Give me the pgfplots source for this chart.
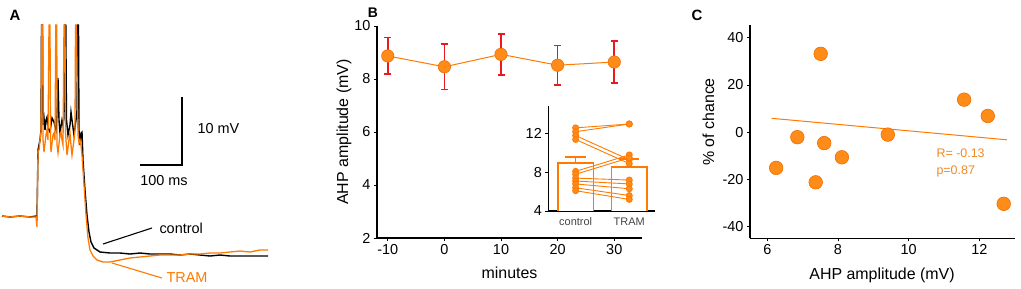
\documentclass[border=0pt]{standalone}
\usepackage{pgfplots}
\pgfplotsset{compat=1.18}
\usepackage{fontspec}
\setmainfont{Liberation Sans}
\definecolor{lor}{RGB}{255,122,0}
\definecolor{mfill}{RGB}{255,140,25}
\definecolor{medge}{RGB}{240,110,0}
\definecolor{ebred}{RGB}{235,25,30}
\definecolor{rtxt}{RGB}{238,138,40}
\definecolor{gtxt}{RGB}{68,68,68}
\pgfplotsset{
  panel/.style={scale only axis, anchor=south west,
    axis x line*=bottom, axis y line*=left,
    axis line style={black, line width=1.1pt, -},
    tick align=outside, major tick length=3bp,
    tick style={black, line width=0.9pt},
    tick label style={font=\fontsize{14.5}{15}\selectfont},
    /pgf/number format/assume math mode=true},
  pair/.style={draw=lor, line width=0.9pt, mark=*, mark size=3bp, mark options={fill=mfill, draw=lor}},
  eb/.style={draw=ebred, line width=1.6pt, mark=none},
  ebo/.style={draw=lor, line width=1.6pt, mark=none},
}
\begin{document}
\begin{tikzpicture}
\useasboundingbox (0,0) rectangle (1021bp,289bp);
% ---------------- Panel A ----------------
\begin{axis}[at={(0,0)}, anchor=south west, scale only axis, width=270bp, height=289bp,
  xmin=0, xmax=270, ymin=0, ymax=289, y dir=reverse, hide axis, clip=false]
\addplot[black, line width=1.4pt] coordinates {
(2,216)(10,217)(20,216)(30,217)(36,216)(37,218)(38,150)(40,140)(41,130)(41.5,25)(42.5,25)(43,125)(44,118)(45,130)(46,120)(47,117)(48,128)(50,132)(52,118)(54,122)(56,130)(57,115)(58,78)(59,120)(60,133)(62,120)(63,125)(64,118)(64.8,25)(65.8,25)(66.5,120)(68,135)(70,125)(71,112)(72,120)(74,135)(76,120)(77,110)(77.6,25)(78.5,25)(79,130)(80,145)(81,133)(82,132)(83,160)(85,190)(87,215)(89,232)(91,242)(94,248)(100,252)(110,253)(120,253)(130,254)(140,253)(150,254)(160,254)(170,254)(180,255)(190,254)(200,255)(210,256)(220,255)(230,256)(240,256)(250,256)(260,256)(268,256)};
\addplot[lor, line width=1.3pt] coordinates {
(2,216)(10,217)(20,216)(30,217)(36,217)(37,227)(38,152)(39,150)(40,140)(41,132)(41.8,25)(42.8,25)(43,140)(44,152)(46,135)(47,130)(48,140)(49,25)(50,25)(50.5,140)(51,152)(53,135)(54,133)(55,140)(55.8,25)(56.8,25)(57,145)(58,153)(60,135)(61,132)(62,140)(63,145)(64,25)(65,25)(65.5,132)(66,140)(67,155)(69,140)(70,133)(71,145)(72,155)(74,140)(75,130)(75.5,25)(76.5,25)(77,70)(78,135)(79,143)(80,140)(81,145)(82,155)(84,185)(86,215)(88,238)(90,250)(93,256)(97,260)(103,262)(110,262)(120,260)(130,258)(140,257)(150,256)(160,255)(170,255)(180,255)(190,254)(200,254)(210,253)(220,253)(230,252)(240,251)(250,252)(260,250)(268,250)};
% scale bars
\addplot[black, line width=1.1pt] coordinates {(182,97)(182,165)(140,165)};
% pointers
\addplot[black, line width=1.1pt] coordinates {(103,244)(152,228)};
\addplot[lor, line width=1.1pt] coordinates {(112,263)(162,278)};
\node[anchor=west, font=\fontsize{14.5}{15}\selectfont] at (axis cs:194,129) {10 mV};
\node[font=\fontsize{14.5}{15}\selectfont] at (axis cs:164,181) {100 ms};
\node[anchor=west, font=\fontsize{14.5}{15}\selectfont] at (axis cs:156,228) {control};
\node[anchor=west, text=lor, font=\fontsize{14.5}{15}\selectfont] at (axis cs:163,278) {TRAM};
\end{axis}
% ---------------- Panel B ----------------
\begin{axis}[panel, at={(377bp,51bp)}, width=265bp, height=212bp,
  xmin=-11.9, xmax=34.9, ymin=2, ymax=10,
  xtick={-10,0,10,20,30}, ytick={2,4,6,8,10}]
% error bars (mean +- error), stems and caps
\addplot[eb] coordinates {(-10,8.18)(-10,9.56)};
\addplot[eb] coordinates {(-10.62,8.18)(-9.38,8.18)};
\addplot[eb] coordinates {(-10.62,9.56)(-9.38,9.56)};
\addplot[eb] coordinates {(0,7.60)(0,9.32)};
\addplot[eb] coordinates {(-0.62,7.60)(0.62,7.60)};
\addplot[eb] coordinates {(-0.62,9.32)(0.62,9.32)};
\addplot[eb] coordinates {(10,8.16)(10,9.70)};
\addplot[eb] coordinates {(9.38,8.16)(10.62,8.16)};
\addplot[eb] coordinates {(9.38,9.70)(10.62,9.70)};
\addplot[eb] coordinates {(20,7.78)(20,9.26)};
\addplot[eb] coordinates {(19.38,7.78)(20.62,7.78)};
\addplot[eb] coordinates {(19.38,9.26)(20.62,9.26)};
\addplot[eb] coordinates {(30,7.84)(30,9.44)};
\addplot[eb] coordinates {(29.38,7.84)(30.62,7.84)};
\addplot[eb] coordinates {(29.38,9.44)(30.62,9.44)};
\addplot[draw=lor, line width=1pt, mark=*, mark size=6.2bp, mark options={fill=mfill, draw=medge, line width=0.6pt}]
  coordinates {(-10,8.87)(0,8.46)(10,8.93)(20,8.52)(30,8.64)};
\end{axis}
% ---------------- Inset ----------------
\begin{axis}[panel, at={(548.3bp,78bp)}, width=106.7bp, height=105bp,
  xmin=-0.51, xmax=1.48, ymin=4, ymax=14.86, clip=true,
  xtick={0,1}, xticklabels={control,TRAM}, ytick={4,8,12},
  xtick style={draw=none},
  xticklabel style={font=\fontsize{11}{12}\selectfont, text=gtxt}]
\addplot[draw=lor, line width=1.4pt, fill=white, mark=none] coordinates {(-0.33,3.9)(-0.33,8.95)(0.33,8.95)(0.33,3.9)};
\addplot[draw=lor, line width=1.4pt, fill=white, mark=none] coordinates {(0.67,3.9)(0.67,8.55)(1.33,8.55)(1.33,3.9)};
\addplot[ebo] coordinates {(0,8.95)(0,9.6)};
\addplot[ebo] coordinates {(-0.19,9.6)(0.19,9.6)};
\addplot[ebo] coordinates {(1,8.55)(1,9.4)};
\addplot[ebo] coordinates {(0.81,9.4)(1.19,9.4)};
\addplot[pair] coordinates {(0,12.6)(1,13.0)};
\addplot[pair] coordinates {(0,12.2)(1,13.0)};
\addplot[pair] coordinates {(0,11.8)(1,9.3)};
\addplot[pair] coordinates {(0,11.4)(1,8.9)};
\addplot[pair] coordinates {(0,8.1)(1,9.8)};
\addplot[pair] coordinates {(0,7.8)(1,9.5)};
\addplot[pair] coordinates {(0,7.4)(1,7.2)};
\addplot[pair] coordinates {(0,7.1)(1,6.8)};
\addplot[pair] coordinates {(0,6.8)(1,6.3)};
\addplot[pair] coordinates {(0,6.4)(1,5.6)};
\addplot[pair] coordinates {(0,6.1)(1,5.2)};
\end{axis}
% ---------------- Panel C ----------------
\begin{axis}[panel, at={(750bp,50.7bp)}, width=265bp, height=213.3bp,
  xmin=5.51, xmax=13.01, ymin=-44.9, ymax=45.4,
  xtick={6,8,10,12}, ytick={-40,-20,0,20,40}]
\addplot[draw=lor, line width=1pt, mark=none] coordinates {(6.12,5.9)(12.78,-3.2)};
\addplot[only marks, mark=*, mark size=6.8bp, mark options={fill=mfill, draw=medge, line width=0.6pt}]
  coordinates {(6.25,-15.1)(6.85,-2.1)(7.51,33.2)(7.37,-21.2)(7.61,-4.6)(8.11,-10.6)(9.41,-1.0)(11.57,13.8)(12.24,6.9)(12.69,-30.3)};
\node[anchor=west, text=rtxt, font=\fontsize{12.5}{13}\selectfont] at (axis cs:10.69,-9.0) {R= -0.13};
\node[anchor=west, text=rtxt, font=\fontsize{12.5}{13}\selectfont] at (axis cs:10.69,-16.5) {p=0.87};
\end{axis}
% ---------------- labels ----------------
\node[font=\bfseries\fontsize{15}{15}\selectfont] at (15bp,274bp) {A};
\node[font=\bfseries\fontsize{14}{14}\selectfont] at (373bp,276bp) {B};
\node[font=\bfseries\fontsize{15}{15}\selectfont] at (697bp,274bp) {C};
\node[anchor=base, font=\fontsize{16}{16}\selectfont] at (509.5bp,11bp) {minutes};
\node[anchor=base, rotate=90, font=\fontsize{16}{16}\selectfont] at (348bp,157bp) {AHP amplitude (mV)};
\node[anchor=base, font=\fontsize{16}{16}\selectfont] at (882bp,10bp) {AHP amplitude (mV)};
\node[anchor=base, rotate=90, font=\fontsize{16}{16}\selectfont] at (714bp,167bp) {\% of chance};
\end{tikzpicture}
\end{document}
